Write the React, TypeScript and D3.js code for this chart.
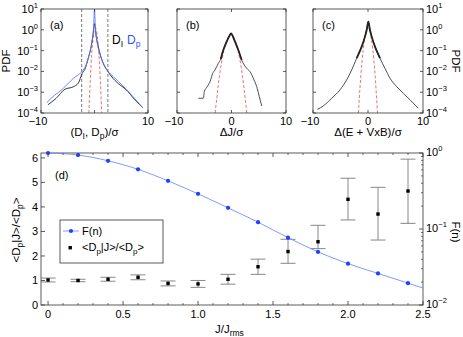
import * as React from 'react';
import * as d3 from 'd3';

const FONT = 'Liberation Sans, Arial, Helvetica, sans-serif';

// panel (a): D_I (black) and D_p (blue) PDFs, x in units of sigma
const dIx = [-8.7, -7.2, -5.5, -4, -3, -2.3, -1.8, -1.2, -0.7, -0.3, 0, 0.3, 0.7, 1.2, 1.8, 2.5, 3.5, 4.8, 5.8, 7.5, 9];
const dIpdf = [2.5e-4, 5e-4, 1.4e-3, 1.8e-3, 2.8e-3, 8e-3, 1.25e-2, 4e-2, 0.126, 0.5, 2.0, 0.5, 0.16, 0.05, 0.02, 1e-2, 4.5e-3, 2.2e-3, 1.4e-3, 4.5e-4, 1.8e-4];
const dPx = [-8.9, -7.5, -6, -5, -4, -3, -2.3, -1.6, -1, -0.5, -0.15, 0, 0.15, 0.5, 1, 1.6, 2.4, 3.5, 4.5, 5.5, 7, 9];
const dPpdf = [3.2e-4, 7e-4, 1.4e-3, 2.5e-3, 4.5e-3, 7e-3, 1e-2, 2e-2, 6.3e-2, 0.25, 1.6, 10, 1.6, 0.25, 7e-2, 2.5e-2, 1.1e-2, 5.6e-3, 3.2e-3, 1.8e-3, 7e-4, 1.8e-4];
const gaussAx = [-1.05, -0.8, -0.5, -0.2, 0.15, 0.5, 0.8, 1.1, 1.35];
const gaussApdf = [1e-4, 3.4e-3, 8e-2, 0.56, 1.26, 0.56, 8e-2, 3.4e-3, 1e-4];

// panel (b): Delta J
const dJx = [-6.09, -5.17, -4.99, -4.55, -4.25, -3.94, -3.45, -3.03, -2.42, -1.99, -1.5, -0.88, -0.4, -0.09, 0.22, 0.64, 1.25, 1.87, 2.79, 3.39, 4.13, 4.62, 5.1, 5.54];
const dJpdf = [5.1e-4, 5.1e-4, 1.07e-3, 1.7e-3, 2.24e-3, 3.2e-3, 8.1e-3, 1.17e-2, 2.45e-2, 3.8e-2, 0.107, 0.27, 0.5, 0.68, 0.5, 0.27, 0.107, 3.5e-2, 1.4e-2, 9.8e-3, 3.9e-3, 1.86e-3, 6.2e-4, 2.2e-4];
const gaussBx = [-3, -2.2, -1.4, -0.7, -0.1, 0.5, 1.2, 2.0, 2.8];
const gaussBpdf = [1e-4, 6.3e-3, 0.1, 0.4, 0.63, 0.4, 0.1, 6.3e-3, 1e-4];

// panel (c): Delta(E + VxB)
const dEx = [-9.21, -8.12, -6.61, -5.09, -3.88, -2.97, -2.06, -1.15, -0.55, -0.24, 0.06, 0.36, 0.67, 1.27, 2.18, 3.09, 4.0, 5.21, 6.42, 7.64, 9.15];
const dEpdf = [1.5e-4, 2.2e-4, 5.1e-4, 1.3e-3, 3.9e-3, 1.17e-2, 4.3e-2, 0.155, 0.47, 0.98, 2.45, 0.98, 0.47, 0.155, 4.3e-2, 1.4e-2, 4.7e-3, 1.86e-3, 8.9e-4, 4.3e-4, 1.7e-4];
const gaussCx = [-1.75, -1.3, -0.85, -0.4, 0, 0.4, 0.85, 1.3, 1.72];
const gaussCpdf = [1e-4, 6.3e-3, 0.126, 0.76, 1.26, 0.76, 0.126, 6.3e-3, 1e-4];

// panel (d)
const jVals = [0, 0.2, 0.4, 0.6, 0.8, 1.0, 1.2, 1.4, 1.6, 1.8, 2.0, 2.2, 2.4];
const fVals = [1.0, 0.94, 0.79, 0.61, 0.43, 0.29, 0.19, 0.123, 0.077, 0.05, 0.035, 0.026, 0.0194];
const fTailJ = 2.5;
const fTail = 0.0167;
const ratio = [1.02, 1.0, 1.05, 1.13, 0.88, 0.86, 1.05, 1.56, 2.18, 2.58, 4.31, 3.71, 4.65];
const ratioLo = [0.94, 0.95, 0.97, 1.03, 0.78, 0.72, 0.85, 1.25, 1.7, 2.3, 3.47, 2.65, 3.33];
const ratioHi = [1.1, 1.05, 1.13, 1.23, 0.98, 1.0, 1.25, 1.87, 2.68, 3.25, 5.17, 4.8, 5.95];

const pdfDecades = [1, 0, -1, -2, -3, -4];
const leftTicks = [0, 1, 2, 3, 4, 5, 6];
const jTicks = [0, 0.5, 1.0, 1.5, 2.0, 2.5];
const jTickLabels = ['0', '0.5', '1.0', '1.5', '2.0', '2.5'];
const fDecades = [0, -1, -2];

const AX = '#333';
const TOP = 9;
const BOT = 113;

function Sup({x, y, base, exp, anchor}: {x: number; y: number; base: string; exp: string; anchor: string}) {
  return (
    <text x={x} y={y} textAnchor={anchor} fontSize={11} fontFamily={FONT}>
      {base}<tspan dy={-5} fontSize={7.5}>{exp}</tspan>
    </text>
  );
}

function PdfPanel({x0, x1, curves, gauss, label, xlabel, leftLabels, rightLabels, zeroLabel, dashes}: any) {
  const x = d3.scaleLinear().domain([-10, 10]).range([x0, x1]);
  const y = d3.scaleLog().domain([1e-4, 10]).range([BOT, TOP]);
  const line = d3.line<[number, number]>()
    .x(d => x(d[0]))
    .y(d => y(d[1]))
    .curve(d3.curveMonotoneX);
  const clipId = 'clip' + label.replace(/[()]/g, '');
  return (
    <g>
      <defs>
        <clipPath id={clipId}><rect x={x0} y={TOP} width={x1 - x0} height={BOT - TOP} /></clipPath>
      </defs>
      <g clipPath={`url(#${clipId})`}>
        {(dashes || []).map((v: number) => (
          <line key={v} x1={x(v)} x2={x(v)} y1={TOP} y2={BOT} stroke="#555" strokeWidth={0.8} strokeDasharray="3,2" />
        ))}
        <path d={line(d3.zip(gauss[0], gauss[1]) as any) || ''} fill="none" stroke="#f06060" strokeWidth={0.9} strokeDasharray="3,2" />
        {curves.map((c: any, i: number) => (
          <path key={i} d={line(d3.zip(c.x, c.y) as any) || ''} fill="none" stroke={c.color} strokeWidth={c.w} />
        ))}
        {curves.filter((c: any) => c.thick).map((c: any, i: number) => {
          const pts = (d3.zip(c.x, c.y) as [number, number][]).filter(p => Math.abs(p[0]) <= c.thick);
          return <path key={'t' + i} d={line(pts) || ''} fill="none" stroke={c.color} strokeWidth={1.8} />;
        })}
      </g>
      <rect x={x0} y={TOP} width={x1 - x0} height={BOT - TOP} fill="none" stroke={AX} strokeWidth={0.8} />
      {pdfDecades.map(e => (
        <g key={e}>
          <line x1={x0} x2={x0 + 3} y1={y(Math.pow(10, e))} y2={y(Math.pow(10, e))} stroke={AX} strokeWidth={0.8} />
          <line x1={x1} x2={x1 - 3} y1={y(Math.pow(10, e))} y2={y(Math.pow(10, e))} stroke={AX} strokeWidth={0.8} />
          {leftLabels && <Sup x={x0 - 3} y={y(Math.pow(10, e)) + 4} base="10" exp={e < 0 ? '−' + (-e) : String(e)} anchor="end" />}
          {rightLabels && <Sup x={x1 + 3} y={y(Math.pow(10, e)) + 4} base="10" exp={e < 0 ? '−' + (-e) : String(e)} anchor="start" />}
        </g>
      ))}
      {[-10, 0, 10].map(v => (
        <g key={v}>
          <line x1={x(v)} x2={x(v)} y1={BOT} y2={BOT - 3} stroke={AX} strokeWidth={0.8} />
          <line x1={x(v)} x2={x(v)} y1={TOP} y2={TOP + 3} stroke={AX} strokeWidth={0.8} />
          {(v !== 0 || zeroLabel) && (
            <text x={x(v) + (v < 0 ? -3 : 0)} y={125} textAnchor="middle" fontSize={11} fontFamily={FONT}>{v < 0 ? '−10' : String(v)}</text>
          )}
        </g>
      ))}
      <text x={x0 + 9} y={29} fontSize={11} fontFamily={FONT}>{label}</text>
      <text x={(x0 + x1) / 2} y={136} textAnchor="middle" fontSize={11.5} fontFamily={FONT}>{xlabel}</text>
    </g>
  );
}

function PanelD() {
  const L = 41, R = 423, T = 153, B = 305;
  const x = d3.scaleLinear().domain([-0.047, 2.5]).range([L, R]);
  const yl = d3.scaleLinear().domain([0, 6.2]).range([B, T]);
  const yr = d3.scaleLog().domain([1e-2, 1]).range([B, T]);
  const fLine = d3.line<[number, number]>()
    .x(d => x(d[0]))
    .y(d => yr(d[1]))
    .curve(d3.curveMonotoneX);
  const linePts = (d3.zip(jVals, fVals) as [number, number][]).concat([[fTailJ, fTail]]);
  const minorJ = d3.range(0, 25).map(i => i / 10).filter(v => Math.round(v * 10) % 5 !== 0);
  const minorF: number[] = [];
  [0.01, 0.1].forEach(b => { for (let k = 2; k <= 9; k++) minorF.push(b * k); });
  const blue = '#2040ff';
  return (
    <g>
      <rect x={L} y={T} width={R - L} height={B - T} fill="none" stroke={AX} strokeWidth={0.8} />
      {/* error bars */}
      {jVals.map((j, i) => (
        <g key={i} stroke="#7a7a7a" strokeWidth={0.9}>
          <line x1={x(j)} x2={x(j)} y1={yl(ratioLo[i])} y2={yl(ratioHi[i])} />
          <line x1={Math.max(L, x(j) - 7.5)} x2={x(j) + 7.5} y1={yl(ratioLo[i])} y2={yl(ratioLo[i])} />
          <line x1={Math.max(L, x(j) - 7.5)} x2={x(j) + 7.5} y1={yl(ratioHi[i])} y2={yl(ratioHi[i])} />
        </g>
      ))}
      {jVals.map((j, i) => (
        <rect key={i} x={x(j) - 1.7} y={yl(ratio[i]) - 1.7} width={3.4} height={3.4} fill="#000" />
      ))}
      <path d={fLine(linePts) || ''} fill="none" stroke="#7090ff" strokeWidth={0.9} />
      {jVals.map((j, i) => (
        <circle key={i} cx={x(j)} cy={yr(fVals[i])} r={2.1} fill={blue} />
      ))}
      {/* x ticks */}
      {jTicks.map((v, i) => (
        <g key={v}>
          <line x1={x(v)} x2={x(v)} y1={B} y2={B - 4} stroke={AX} strokeWidth={0.8} />
          <line x1={x(v)} x2={x(v)} y1={T} y2={T + 4} stroke={AX} strokeWidth={0.8} />
          <text x={x(v)} y={318} textAnchor="middle" fontSize={11} fontFamily={FONT}>{jTickLabels[i]}</text>
        </g>
      ))}
      {minorJ.map(v => (
        <g key={v}>
          <line x1={x(v)} x2={x(v)} y1={B} y2={B - 2} stroke={AX} strokeWidth={0.7} />
          <line x1={x(v)} x2={x(v)} y1={T} y2={T + 2} stroke={AX} strokeWidth={0.7} />
        </g>
      ))}
      {leftTicks.map(v => (
        <g key={v}>
          <line x1={L} x2={L + 4} y1={yl(v)} y2={yl(v)} stroke={AX} strokeWidth={0.8} />
          <text x={L - 3} y={yl(v) + 4} textAnchor="end" fontSize={11} fontFamily={FONT}>{v}</text>
        </g>
      ))}
      {fDecades.map(e => (
        <g key={e}>
          <line x1={R} x2={R - 4} y1={yr(Math.pow(10, e))} y2={yr(Math.pow(10, e))} stroke={AX} strokeWidth={0.8} />
          <Sup x={R + 3} y={yr(Math.pow(10, e)) + 3} base="10" exp={e < 0 ? '−' + (-e) : String(e)} anchor="start" />
        </g>
      ))}
      {minorF.map(v => (
        <line key={v} x1={R} x2={R - 2} y1={yr(v)} y2={yr(v)} stroke={AX} strokeWidth={0.7} />
      ))}
      <text x={55} y={179} fontSize={11} fontFamily={FONT}>(d)</text>
      {/* legend */}
      <rect x={60} y={220} width={103} height={43} fill="#fff" stroke={AX} strokeWidth={0.8} />
      <line x1={63} x2={79} y1={231} y2={231} stroke="#7090ff" strokeWidth={0.9} />
      <circle cx={71} cy={231} r={2.1} fill={blue} />
      <text x={82} y={235} fontSize={11} fontFamily={FONT}>F(n)</text>
      <rect x={68.5} y={246} width={3.4} height={3.4} fill="#000" />
      <text x={82} y={251} fontSize={11} fontFamily={FONT}>
        {'<D'}<tspan dy={3} fontSize={8}>p</tspan><tspan dy={-3}>{'|J>/<D'}</tspan><tspan dy={3} fontSize={8}>p</tspan><tspan dy={-3}>{'>'}</tspan>
      </text>
      {/* axis labels */}
      <text x={215} y={333} fontSize={11.5} fontFamily={FONT}>
        J/J<tspan dy={3} fontSize={8.5}>rms</tspan>
      </text>
      <text transform="translate(20,230) rotate(-90)" textAnchor="middle" fontSize={11.5} fontFamily={FONT}>
        {'<D'}<tspan dy={3} fontSize={8.5}>p</tspan><tspan dy={-3}>{'|J>/<D'}</tspan><tspan dy={3} fontSize={8.5}>p</tspan><tspan dy={-3}>{'>'}</tspan>
      </text>
      <text transform="translate(452,232) rotate(90)" textAnchor="middle" fontSize={11.5} fontFamily={FONT}>F(n)</text>
    </g>
  );
}

export default function App() {
  return (
    <svg width={463} height={337} style={{position: 'absolute', left: 0, top: 0, background: '#fff'}}>
      <rect width={463} height={337} fill="#fff" />
      <PdfPanel
        x0={41} x1={148}
        curves={[
          {x: dIx, y: dIpdf, color: '#222', w: 0.9},
          {x: dPx, y: dPpdf, color: '#5577ff', w: 0.9},
        ]}
        gauss={[gaussAx, gaussApdf]}
        dashes={[-2.4, 2.5]}
        label="(a)"
        xlabel={<>(D<tspan dy={3} fontSize={8.5}>I</tspan><tspan dy={-3}>, D</tspan><tspan dy={3} fontSize={8.5}>p</tspan><tspan dy={-3}>)/σ</tspan></>}
        leftLabels
      />
      <text x={112} y={44} fontSize={12} fontFamily={FONT}>D<tspan dy={3} fontSize={8.5}>I</tspan></text>
      <text x={127} y={44} fontSize={12} fontFamily={FONT} fill="#3355ff">D<tspan dy={3} fontSize={8.5}>p</tspan></text>
      <text transform="translate(10,61) rotate(-90)" textAnchor="middle" fontSize={11.5} fontFamily={FONT}>PDF</text>
      <PdfPanel
        x0={177} x1={286}
        curves={[{x: dJx, y: dJpdf, color: '#222', w: 0.8, thick: 2.2}]}
        gauss={[gaussBx, gaussBpdf]}
        label="(b)"
        xlabel="ΔJ/σ"
        zeroLabel
      />
      <PdfPanel
        x0={313} x1={423}
        curves={[{x: dEx, y: dEpdf, color: '#222', w: 0.8, thick: 2.2}]}
        gauss={[gaussCx, gaussCpdf]}
        label="(c)"
        xlabel="Δ(E + VxB)/σ"
        rightLabels
        zeroLabel
      />
      <text transform="translate(452,61) rotate(90)" textAnchor="middle" fontSize={11.5} fontFamily={FONT}>PDF</text>
      <PanelD />
    </svg>
  );
}
